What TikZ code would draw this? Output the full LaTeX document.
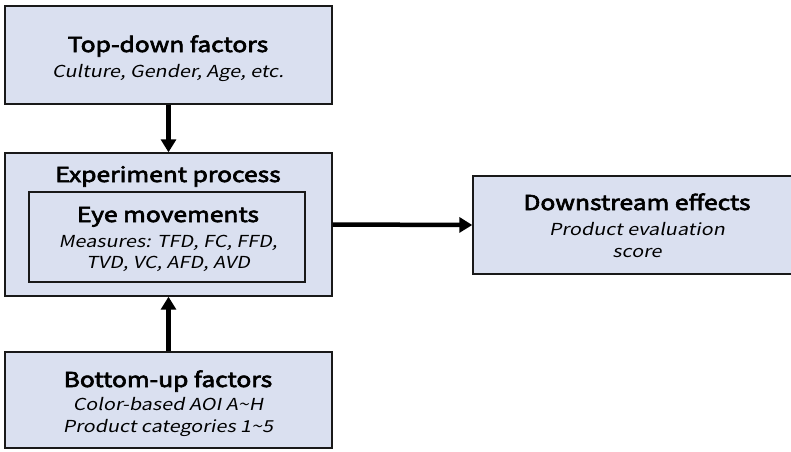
\documentclass[tikz,border=0pt]{standalone}
\usepackage{fontspec}
\setmainfont{Noto Sans CJK JP}[AutoFakeBold=3.2, AutoFakeSlant=0.2, FakeStretch=1.2]
\usetikzlibrary{arrows.meta}
\definecolor{boxfill}{RGB}{218,224,240}
\definecolor{boxline}{RGB}{25,25,25}
\tikzset{
  box/.style={draw=boxline, line width=1.4pt, fill=boxfill, inner sep=0pt},
  inbox/.style={draw=boxline, line width=1.4pt, inner sep=0pt},
  ttl/.style={font=\fontsize{20.5}{22}\selectfont\bfseries, inner sep=0pt, anchor=base},
  sub/.style={font=\fontsize{16.5}{20}\selectfont\itshape, inner sep=0pt, anchor=base},
  flow/.style={line width=4.5pt, -{Triangle[length=13pt,width=15pt]}}
}
\begin{document}
\begin{tikzpicture}[x=1pt,y=-1pt]
  \useasboundingbox (0,0) rectangle (791,451);
  % boxes
  \node[box, minimum width=327pt, minimum height=98pt] (top) at (168.5,55) {};
  \node[box, minimum width=327pt, minimum height=143pt] (exp) at (168.5,224.5) {};
  \node[inbox, minimum width=276pt, minimum height=90pt] (eye) at (167,237) {};
  \node[box, minimum width=327pt, minimum height=96pt] (bot) at (168.5,400) {};
  \node[box, minimum width=328pt, minimum height=98pt] (down) at (637,225) {};
  % texts
  \node[ttl] (toptitle) at (168,52) {Top-down factors};
  \node[sub] (topsub) at (168,77) {Culture, Gender, Age, etc.};
  \node[ttl] (exptitle) at (168,182) {Experiment process};
  \node[ttl] (eyetitle) at (168,222) {Eye movements};
  \node[sub] (eyesub1) at (168,247) {Measures: TFD, FC, FFD,};
  \node[sub] (eyesub2) at (168,268) {TVD, VC, AFD, AVD};
  \node[ttl] (bottitle) at (168,387) {Bottom-up factors};
  \node[sub] (botsub1) at (168,410) {Color-based AOI A\textasciitilde H};
  \node[sub] (botsub2) at (168,432) {Product categories 1\textasciitilde 5};
  \node[ttl] (downtitle) at (637,210) {Downstream effects};
  \node[sub] (downsub1) at (637,235) {Product evaluation};
  \node[sub] (downsub2) at (637,257) {score};
  % connectors
  \draw[flow] (top.south) -- (exp.north);
  \draw[flow] (bot.north) -- (exp.south);
  \draw[flow] (exp.east) -- (down.west);
\end{tikzpicture}
\end{document}
